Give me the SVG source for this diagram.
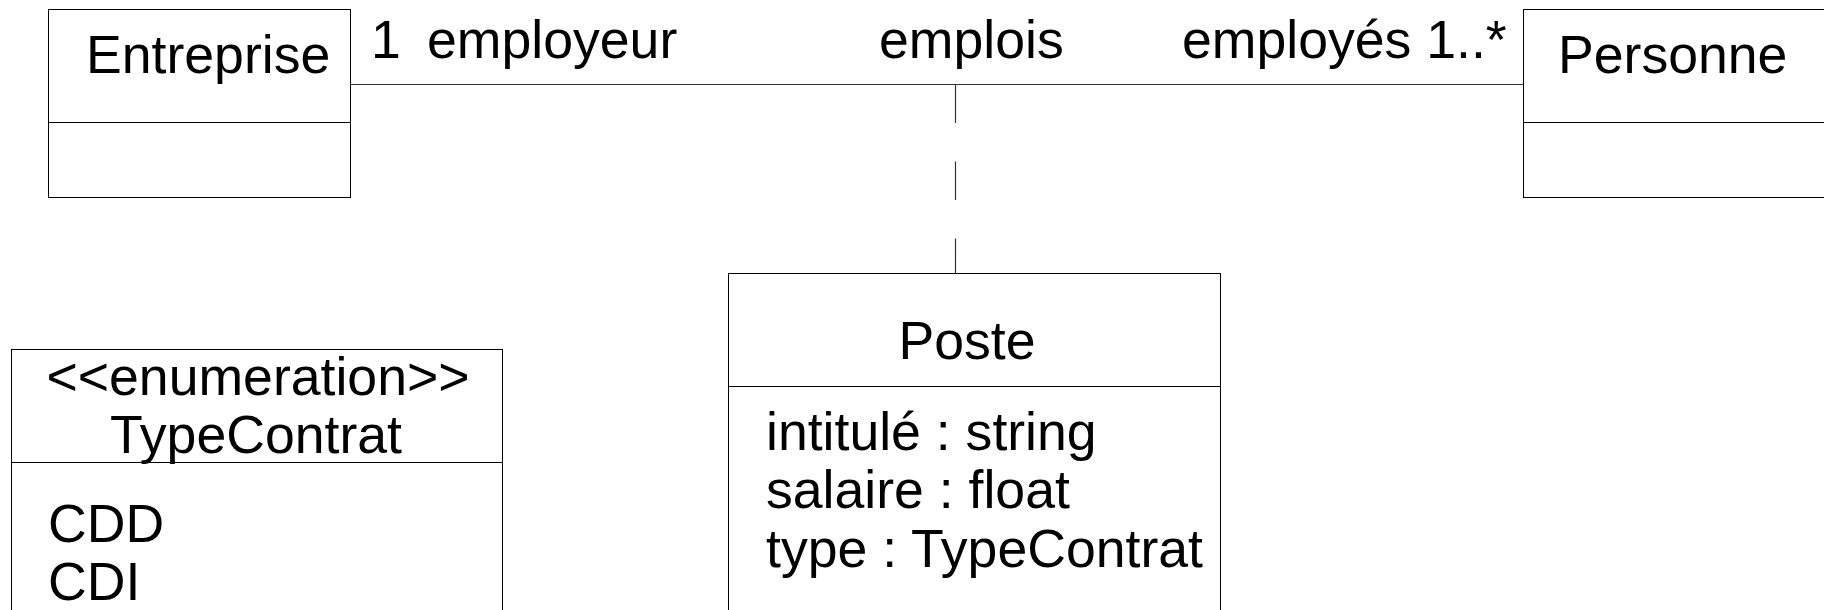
<svg xmlns="http://www.w3.org/2000/svg" width="1824" height="610" viewBox="0 0 1824 610">
<style>
.box{fill:#fff;stroke:#000;stroke-width:1}
.div{stroke:#000;stroke-width:1}
.t{font-family:"Liberation Sans",Arial,sans-serif;font-size:53.6px;fill:#000}
.c{text-anchor:middle}
.conn{stroke:#333;stroke-width:1.2;fill:none}
</style>
<rect width="1824" height="610" fill="#fff"/>
<g id="connectors">
<line class="conn" x1="350.5" y1="84.5" x2="1523" y2="84.5"/>
<line class="conn" x1="955.5" y1="84.5" x2="955.5" y2="273" stroke-dasharray="38.5 38.5"/>
<text class="t" x="371" y="58">1</text>
<text class="t" x="427" y="58">employeur</text>
<text class="t" x="879" y="58">emplois</text>
<text class="t" x="1182" y="58">employés 1..*</text>
</g>
<g id="entreprise">
<rect class="box" x="48.5" y="9.5" width="302" height="188"/>
<line class="div" x1="48.5" y1="122.5" x2="350.5" y2="122.5"/>
<text class="t" x="86" y="73">Entreprise</text>
</g>
<g id="personne">
<rect class="box" x="1523.5" y="9.5" width="320" height="188"/>
<line class="div" x1="1523.5" y1="122.5" x2="1843.5" y2="122.5"/>
<text class="t" x="1558" y="73">Personne</text>
</g>
<g id="poste">
<rect class="box" x="728.5" y="273.5" width="492" height="360"/>
<line class="div" x1="728.5" y1="386.5" x2="1220.5" y2="386.5"/>
<text class="t c" x="967" y="359">Poste</text>
<text class="t" x="766" y="450">intitulé : string</text>
<text class="t" x="766" y="508">salaire : float</text>
<text class="t" x="766" y="567">type : TypeContrat</text>
</g>
<g id="typecontrat">
<rect class="box" x="11.5" y="349.5" width="491" height="300"/>
<line class="div" x1="11.5" y1="462.5" x2="502.5" y2="462.5"/>
<text class="t c" x="258" y="395">&lt;&lt;enumeration&gt;&gt;</text>
<text class="t c" x="256" y="453">TypeContrat</text>
<text class="t" x="48" y="542">CDD</text>
<text class="t" x="48" y="600">CDI</text>
</g>
</svg>
